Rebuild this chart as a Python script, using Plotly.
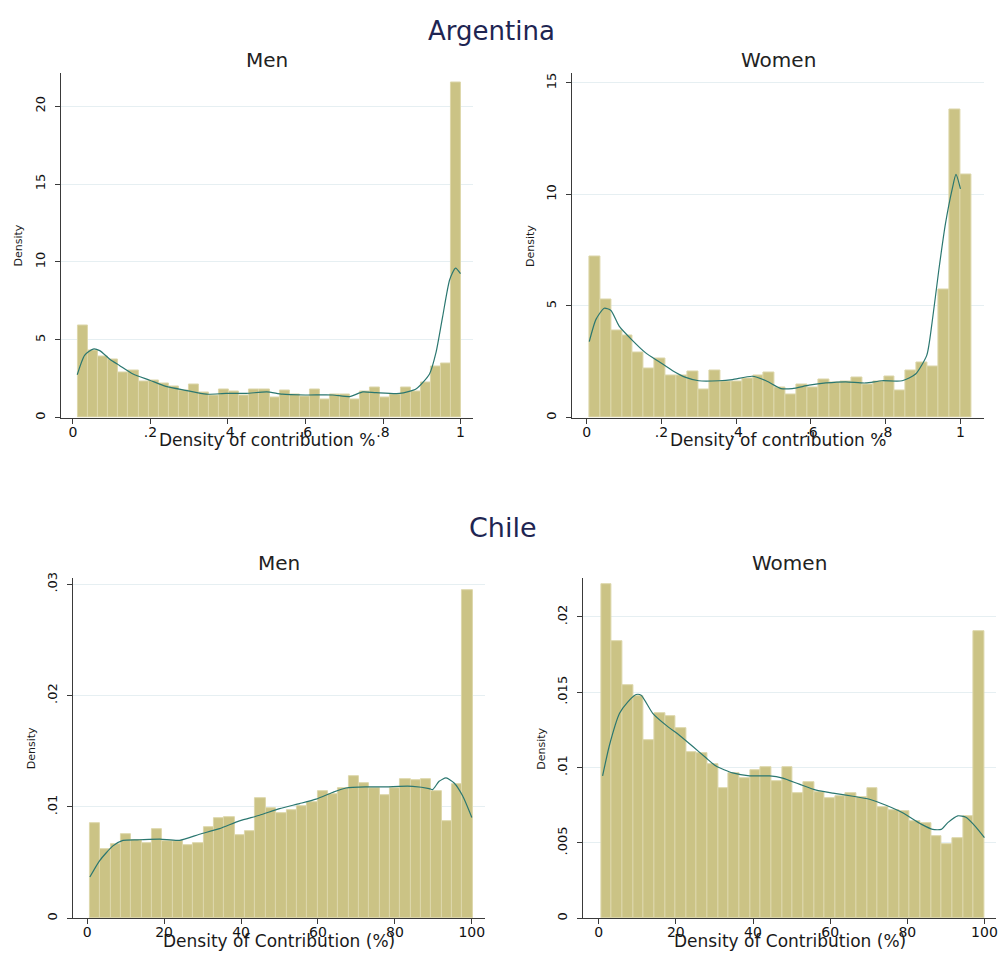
import plotly.graph_objects as go

# ---------------- Data ----------------
# Argentina - Men (histogram densities, 38 bins)
arg_men_start = 0.013
arg_men_width = 0.026
arg_men_bars = [5.9, 4.3, 3.9, 3.7, 2.9, 3.0, 2.3, 2.4, 2.2, 2.0, 1.75, 2.1, 1.6, 1.4,
                1.8, 1.65, 1.4, 1.8, 1.8, 1.3, 1.75, 1.45, 1.35, 1.8, 1.15, 1.5, 1.45,
                1.15, 1.65, 1.9, 1.3, 1.5, 1.9, 1.65, 2.25, 3.3, 3.45, 21.5]
arg_men_kx = [0.011, 0.03, 0.052, 0.069, 0.095, 0.12, 0.155, 0.198, 0.24, 0.29, 0.344,
              0.395, 0.447, 0.5, 0.54, 0.6, 0.67, 0.714, 0.748, 0.782, 0.843, 0.886,
              0.92, 0.937, 0.954, 0.972, 0.987, 1.0]
arg_men_ky = [2.75, 4.0, 4.4, 4.3, 3.75, 3.35, 2.8, 2.4, 2.0, 1.75, 1.5, 1.55, 1.55,
              1.65, 1.5, 1.45, 1.45, 1.35, 1.65, 1.6, 1.55, 1.85, 2.8, 4.2, 6.5, 8.85,
              9.6, 9.25]

# Argentina - Women (35 bins)
arg_wom_start = 0.007
arg_wom_width = 0.0292
arg_wom_bars = [7.2, 5.3, 3.9, 3.7, 2.9, 2.2, 2.65, 1.9, 1.9, 2.05, 1.27, 2.1, 1.6, 1.6,
                1.75, 1.9, 2.0, 1.35, 1.05, 1.5, 1.35, 1.7, 1.55, 1.6, 1.8, 1.5, 1.6,
                1.85, 1.2, 2.1, 2.45, 2.3, 5.75, 13.8, 10.9]
arg_wom_kx = [0.007, 0.025, 0.047, 0.065, 0.087, 0.123, 0.158, 0.194, 0.23, 0.265, 0.3,
              0.354, 0.39, 0.443, 0.48, 0.52, 0.55, 0.595, 0.64, 0.693, 0.746, 0.79,
              0.844, 0.88, 0.91, 0.924, 0.942, 0.96, 0.978, 0.988, 1.0]
arg_wom_ky = [3.4, 4.4, 4.9, 4.8, 4.1, 3.45, 2.9, 2.5, 2.1, 1.8, 1.65, 1.65, 1.7, 1.85,
              1.65, 1.3, 1.3, 1.45, 1.55, 1.6, 1.55, 1.65, 1.65, 1.95, 2.8, 4.25, 6.6,
              8.7, 10.25, 10.9, 10.25]

# Chile - Men (37 bins)
chl_men_start = 0.7
chl_men_width = 2.69
chl_men_bars = [0.0085, 0.0062, 0.00665, 0.00755, 0.0070, 0.00675, 0.0080, 0.0069,
                0.0069, 0.00655, 0.00675, 0.00815, 0.00895, 0.00905, 0.0075, 0.00785,
                0.01075, 0.00985, 0.00945, 0.00975, 0.0101, 0.0104, 0.0114, 0.0111,
                0.0117, 0.01275, 0.0121, 0.0117, 0.01105, 0.01165, 0.0125, 0.0124,
                0.0125, 0.0114, 0.00875, 0.0120, 0.02945]
chl_men_kx = [0.7, 3.3, 6.7, 9.3, 13.7, 18.9, 24.0, 29.2, 34.4, 39.6, 44.8, 50.0, 55.2,
              59.5, 63.8, 67.3, 72.5, 77.7, 81.1, 84.6, 88.9, 89.8, 91.5, 93.3, 95.4,
              97.6, 100.0]
chl_men_ky = [0.0037, 0.0052, 0.0065, 0.0070, 0.00705, 0.0071, 0.0070, 0.00755, 0.00805,
              0.00875, 0.00925, 0.00985, 0.0103, 0.0107, 0.0113, 0.0117, 0.0118, 0.0118,
              0.01185, 0.01185, 0.01165, 0.01155, 0.0123, 0.0126, 0.01215, 0.0110,
              0.00905]

# Chile - Women (36 bins)
chl_wom_start = 0.6
chl_wom_width = 2.76
chl_wom_bars = [0.0222, 0.0184, 0.01545, 0.01475, 0.01185, 0.0136, 0.0134, 0.0126,
                0.01105, 0.01095, 0.01025, 0.00865, 0.00965, 0.0093, 0.0098, 0.0100,
                0.0091, 0.01005, 0.0083, 0.00905, 0.0084, 0.00795, 0.0081, 0.0083,
                0.00805, 0.00865, 0.00735, 0.00715, 0.0071, 0.00645, 0.0063, 0.00545,
                0.00495, 0.0053, 0.00675, 0.01905]
chl_wom_kx = [1.0, 2.8, 5.4, 7.5, 9.7, 11.0, 14.0, 17.5, 20.9, 24.4, 27.8, 30.4, 34.7,
              39.1, 44.3, 47.7, 52.0, 56.4, 60.7, 65.9, 70.2, 74.5, 78.8, 83.6, 86.6,
              88.8, 90.5, 93.1, 95.2, 97.8, 100.0]
chl_wom_ky = [0.00945, 0.0115, 0.0136, 0.01435, 0.01485, 0.0148, 0.0136, 0.0128, 0.01215,
              0.0114, 0.01065, 0.0101, 0.00965, 0.00945, 0.00945, 0.0093, 0.0089, 0.0085,
              0.0083, 0.0081, 0.0079, 0.0075, 0.0070, 0.00625, 0.0059, 0.0059, 0.00635,
              0.0068, 0.0067, 0.00605, 0.00535]

# Tick labels
arg_x_ticks = [0, 0.2, 0.4, 0.6, 0.8, 1.0]
arg_x_text = ["0", ".2", ".4", ".6", ".8", "1"]
arg_men_y_ticks = [0, 5, 10, 15, 20]
arg_wom_y_ticks = [0, 5, 10, 15]
chl_x_ticks = [0, 20, 40, 60, 80, 100]
chl_x_text = ["0", "20", "40", "60", "80", "100"]
chl_men_y_ticks = [0, 0.01, 0.02, 0.03]
chl_men_y_text = ["0", ".01", ".02", ".03"]
chl_wom_y_ticks = [0, 0.005, 0.01, 0.015, 0.02]
chl_wom_y_text = ["0", ".005", ".01", ".015", ".02"]

# ---------------- Styles ----------------
PAGE_W, PAGE_H = 1006, 961
OFF = 8                      # default page margin around the plot div
W, H = PAGE_W - 2 * OFF, PAGE_H - 2 * OFF
BAR = "#cbc385"
BAR_EDGE = "#ddd7ab"
KDE = "#2b7770"
GRID = "#e6eff2"
AXIS = "#3a3a3a"
FONT = "DejaVu Sans, Verdana, sans-serif"
TITLE_COL = "#1e2552"


def px_x(p):
    return (p - OFF) / W


def px_y(p):
    return 1 - (p - OFF) / H


panels = [
    dict(bars=arg_men_bars, start=arg_men_start, width=arg_men_width,
         kx=arg_men_kx, ky=arg_men_ky,
         xdom=(61, 473), ydom=(68, 415), xr=(-0.031, 1.031), yr=(0, 22.1),
         xt=arg_x_ticks, xtt=arg_x_text, yt=arg_men_y_ticks,
         ytt=[str(v) for v in arg_men_y_ticks],
         xtitle="Density of contribution %", title="Men", tsize=20, ty=54),
    dict(bars=arg_wom_bars, start=arg_wom_start, width=arg_wom_width,
         kx=arg_wom_kx, ky=arg_wom_ky,
         xdom=(573, 985), ydom=(68, 415), xr=(-0.038, 1.063), yr=(0, 15.42),
         xt=arg_x_ticks, xtt=arg_x_text, yt=arg_wom_y_ticks,
         ytt=[str(v) for v in arg_wom_y_ticks],
         xtitle="Density of contribution %", title="Women", tsize=20, ty=54),
    dict(bars=chl_men_bars, start=chl_men_start, width=chl_men_width,
         kx=chl_men_kx, ky=chl_men_ky,
         xdom=(73, 485), ydom=(577, 920), xr=(-3.7, 103.3), yr=(0, 0.03054),
         xt=chl_x_ticks, xtt=chl_x_text, yt=chl_men_y_ticks, ytt=chl_men_y_text,
         xtitle="Density of Contribution (%)", title="Men", tsize=20, ty=562),
    dict(bars=chl_wom_bars, start=chl_wom_start, width=chl_wom_width,
         kx=chl_wom_kx, ky=chl_wom_ky,
         xdom=(584, 997), ydom=(577, 920), xr=(-3.97, 103.0), yr=(0, 0.02257),
         xt=chl_x_ticks, xtt=chl_x_text, yt=chl_wom_y_ticks, ytt=chl_wom_y_text,
         xtitle="Density of Contribution (%)", title="Women", tsize=20, ty=562),
]

fig = go.Figure()
annotations = []

for i, p in enumerate(panels, start=1):
    xa = "x" if i == 1 else f"x{i}"
    ya = "y" if i == 1 else f"y{i}"
    centers = [p["start"] + p["width"] * (k + 0.5) for k in range(len(p["bars"]))]
    fig.add_trace(go.Bar(x=centers, y=p["bars"], width=p["width"],
                         marker=dict(color=BAR, line=dict(color=BAR_EDGE, width=1)),
                         xaxis=xa, yaxis=ya, showlegend=False, hoverinfo="skip"))
    fig.add_trace(go.Scatter(x=p["kx"], y=p["ky"], mode="lines",
                             line=dict(color=KDE, width=1.2, shape="spline", smoothing=0.6),
                             xaxis=xa, yaxis=ya, showlegend=False, hoverinfo="skip"))

    xkey = "xaxis" if i == 1 else f"xaxis{i}"
    ykey = "yaxis" if i == 1 else f"yaxis{i}"
    x0, x1 = p["xdom"]
    ytop, ybot = p["ydom"]
    fig.update_layout(**{
        xkey: dict(domain=[px_x(x0), px_x(x1)], range=list(p["xr"]), anchor=ya,
                   tickvals=p["xt"], ticktext=p["xtt"], ticks="outside", ticklen=5,
                   tickcolor=AXIS, showline=True, linecolor=AXIS, linewidth=1.3,
                   showgrid=False, zeroline=False, fixedrange=True,
                   tickfont=dict(family=FONT, size=14, color="#111111"),
                   ticklabelstandoff=-4),
        ykey: dict(domain=[px_y(ybot), px_y(ytop)], range=list(p["yr"]), anchor=xa,
                   tickvals=p["yt"], ticktext=p["ytt"], ticks="outside", ticklen=5,
                   tickcolor=AXIS, showline=True, linecolor=AXIS, linewidth=1.3,
                   showgrid=True, gridcolor=GRID, gridwidth=1, zeroline=False,
                   tickangle=-90, fixedrange=True,
                   tickfont=dict(family=FONT, size=13, color="#111111"),
                   ticklabelstandoff=5),
    })

    # x axis title (overlaps tick labels as in the original)
    annotations.append(dict(text=p["xtitle"], x=(px_x(x0) + px_x(x1)) / 2,
                            y=px_y(ybot + 23), xref="paper", yref="paper",
                            showarrow=False, xanchor="center", yanchor="middle",
                            font=dict(family=FONT, size=17, color="#1a1a1a")))
    # y axis title
    annotations.append(dict(text="Density", x=px_x(x0 - 42), y=(px_y(ybot) + px_y(ytop)) / 2,
                            xref="paper", yref="paper", showarrow=False, textangle=-90,
                            xanchor="center", yanchor="middle",
                            font=dict(family=FONT, size=11, color="#1a1a1a")))
    # panel title
    annotations.append(dict(text=p["title"], x=(px_x(x0) + px_x(x1)) / 2,
                            y=px_y(p["ty"]), xref="paper", yref="paper",
                            showarrow=False, xanchor="center", yanchor="middle",
                            font=dict(family=FONT, size=p["tsize"], color="#222222")))

# Country titles
annotations.append(dict(text="Argentina", x=px_x(492), y=px_y(25), xref="paper", yref="paper",
                        showarrow=False, xanchor="center", yanchor="middle",
                        font=dict(family=FONT, size=26, color=TITLE_COL)))
annotations.append(dict(text="Chile", x=px_x(504), y=px_y(526), xref="paper", yref="paper",
                        showarrow=False, xanchor="center", yanchor="middle",
                        font=dict(family=FONT, size=27, color=TITLE_COL)))

fig.update_layout(width=W, height=H, margin=dict(l=0, r=0, t=0, b=0),
                  paper_bgcolor="white", plot_bgcolor="white", bargap=0,
                  annotations=annotations, font=dict(family=FONT))

fig.write_html("out.html")
